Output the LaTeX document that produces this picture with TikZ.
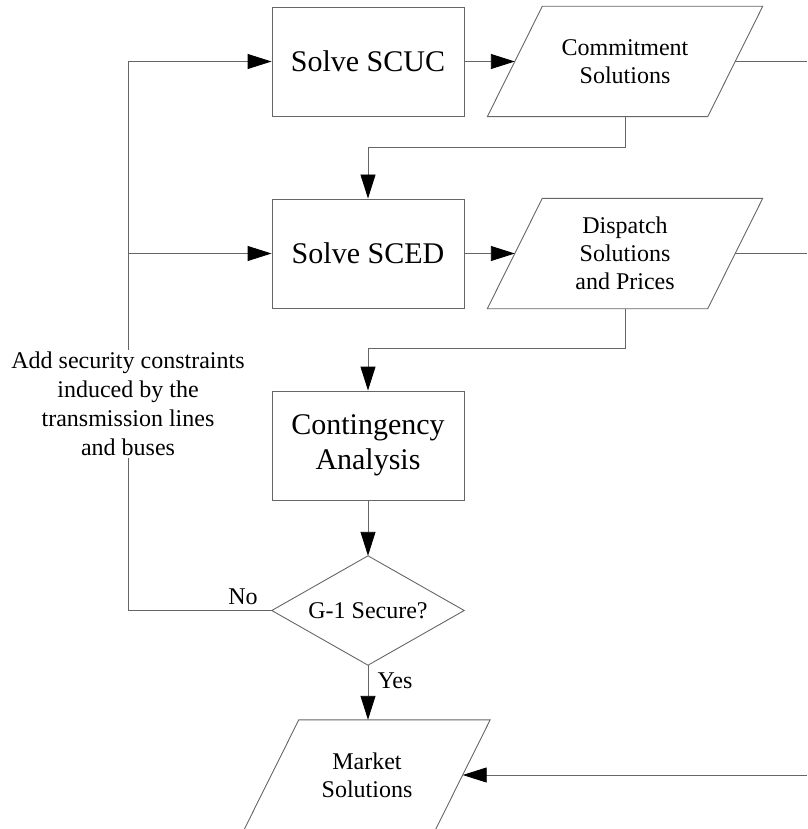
\documentclass[tikz,border=0pt]{standalone}
\usepackage{fontspec}
\setmainfont{Liberation Serif}
\usetikzlibrary{arrows.meta}
\newcommand\parashape[2]{\draw[line] ([xshift=#2]#1.north west) -- ([xshift=#2]#1.north east) -- ([xshift=-#2]#1.south east) -- ([xshift=-#2]#1.south west) -- cycle;}
\begin{document}
\begin{tikzpicture}[x=1pt,y=-1pt,
  line/.style={draw=black!60, line width=0.9pt},
  arr/.style={line, -{Triangle[length=24pt,width=15pt,color=black]}},
  procbox/.style={line, rectangle, minimum width=192pt, minimum height=109pt, inner sep=0pt, align=center, font=\fontsize{30}{35}\selectfont},
  paranode/.style={rectangle, minimum width=220pt, minimum height=110pt, inner sep=0pt, align=center, font=\fontsize{24}{28}\selectfont},
  smalltext/.style={inner sep=0pt, align=center, font=\fontsize{24}{29}\selectfont}]
\useasboundingbox (0,0) rectangle (807,829);

\node[procbox] (scuc) at (368,61.5) {Solve SCUC};
\node[paranode] (commit) at (625,61.5) {Commitment\\Solutions};
\parashape{commit}{27.5pt}
\node[procbox] (sced) at (368,253.5) {Solve SCED};
\node[paranode] (dispatch) at (625,253.5) {Dispatch\\Solutions\\and Prices};
\parashape{dispatch}{27.5pt}
\node[procbox] (cont) at (368,445.5) {Contingency\\Analysis};
\node[smalltext, minimum width=192pt, minimum height=109pt] (dec) at (368,610.5) {G-1 Secure?};
\draw[line] (dec.north) -- (dec.east) -- (dec.south) -- (dec.west) -- cycle;
\node[paranode, minimum width=191pt] (market) at (367,775) {Market\\Solutions};
\parashape{market}{27.5pt}

\coordinate (rc1) at (807,61.5);
\coordinate (rc2) at (807,253.5);
\coordinate (rc3) at (807,775);
\coordinate (lb) at (128,610.5);
\coordinate (lm) at (128,253.5);
\coordinate (lt) at (128,61.5);

\draw[arr] (scuc.east) -- (commit.west);
\draw[line] (commit.east) -- (rc1);
\draw[arr] (commit.south) -- ++(0,31) -| (sced.north);
\draw[arr] (sced.east) -- (dispatch.west);
\draw[line] (dispatch.east) -- (rc2);
\draw[arr] (dispatch.south) -- ++(0,40) -| (cont.north);
\draw[arr] (cont.south) -- (dec.north);
\draw[arr] (dec.south) -- (dec.south |- market.north);
\draw[arr] (rc3) -- (market.east);
\draw[arr] (dec.west) -- (lb) -- (lt) -- (scuc.west);
\draw[arr] (lm) -- (sced.west);

\node[smalltext, fill=white, inner sep=2pt] (note) at (128,404) {Add security constraints\\induced by the\\transmission lines\\and buses};
\node[smalltext] (no) at (243,597) {No};
\node[smalltext] (yes) at (395,681) {Yes};
\end{tikzpicture}
\end{document}
